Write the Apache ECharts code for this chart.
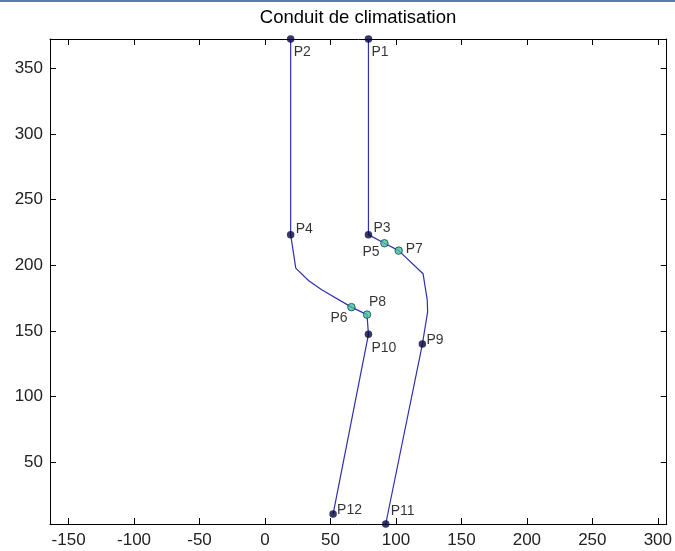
<!DOCTYPE html>
<html>
<head>
<meta charset="utf-8">
<script src="https://cdn.jsdelivr.net/npm/echarts@6/dist/echarts.min.js"></script>
<style>
html,body{margin:0;padding:0;background:#fff;}
#c{width:675px;height:551px;}
</style>
</head>
<body>
<div id="c"></div>
<script>
// ---- data ----
const chartTitle = 'Conduit de climatisation';
const xTicks = [-150, -100, -50, 0, 50, 100, 150, 200, 250, 300];
const yTicks = [50, 100, 150, 200, 250, 300, 350];
const xRange = [-164.2, 306.8];
const yRange = [2.7, 372.6];

// left wall: P2 -> P4 -> ... -> P6 -> P8 -> P10 -> P12
const leftWallX = [19.6, 19.6, 23.5, 33.4, 43.3, 66.0, 77.9, 79.0, 52.0];
const leftWallY = [372.6, 223.4, 197.9, 188.2, 181.3, 168.1, 162.4, 147.4, 10.3];
// right wall: P1 -> P3 -> P5 -> P7 -> ... -> P9 -> P11
const rightWallX = [79.0, 79.0, 91.2, 102.1, 120.7, 123.9, 124.2, 120.2, 92.2];
const rightWallY = [372.6, 223.4, 216.8, 211.2, 193.6, 173.7, 164.5, 139.9, 2.7];

const pointNames = ['P1','P2','P3','P4','P5','P6','P7','P8','P9','P10','P11','P12'];
const pointX = [79.0, 19.6, 79.0, 19.6, 91.2, 66.0, 102.1, 77.9, 120.2, 79.0, 92.2, 52.0];
const pointY = [372.6, 372.6, 223.4, 223.4, 216.8, 168.1, 211.2, 162.4, 139.9, 147.4, 2.7, 10.3];
const tealPoints = ['P5','P6','P7','P8'];

// ---- styling (label offsets in px, relative to the marker centre) ----
const labelOffsets = {
  P1:[3,13], P2:[3,13], P3:[5,-6], P4:[5,-5], P5:[-22,9], P6:[-21,11],
  P7:[7,-1], P8:[2,-12], P9:[4,-4], P10:[3,14], P11:[5,-13], P12:[4,-4]
};
const FONT = "'Liberation Sans', Arial, sans-serif";
const lineColor = '#3030b0';

const pairs = (xs, ys) => xs.map((x, i) => [x, ys[i]]);

const pointData = pointNames.map((n, i) => {
  const teal = tealPoints.includes(n);
  return {
    name: n,
    value: [pointX[i], pointY[i]],
    itemStyle: teal ? {color:'#40c498', borderColor:'#1c3c5c', borderWidth:1}
                    : {color:'#06063e', borderColor:'#06063e', borderWidth:0},
    label: {offset: labelOffsets[n]}
  };
});

const axisCommon = {
  type: 'value',
  axisLine: {show: true, onZero: false, lineStyle: {color: '#000', width: 1}},
  splitLine: {show: false},
  axisTick: {show: true, inside: true, length: 6, lineStyle: {color: '#000'}}
};

const chart = echarts.init(document.getElementById('c'));
chart.setOption({
  animation: false,
  backgroundColor: '#fff',
  grid: {left: 50, right: 8, top: 39, bottom: 27},
  xAxis: [
    Object.assign({}, axisCommon, {
      position: 'bottom', min: xRange[0], max: xRange[1],
      axisTick: Object.assign({}, axisCommon.axisTick, {customValues: xTicks}),
      axisLabel: {customValues: xTicks, color: '#222', fontFamily: FONT, fontSize: 17, margin: 8}
    }),
    Object.assign({}, axisCommon, {
      position: 'top', min: xRange[0], max: xRange[1],
      axisTick: Object.assign({}, axisCommon.axisTick, {customValues: xTicks}),
      axisLabel: {show: false}
    })
  ],
  yAxis: [
    Object.assign({}, axisCommon, {
      position: 'left', min: yRange[0], max: yRange[1],
      axisTick: Object.assign({}, axisCommon.axisTick, {customValues: yTicks}),
      axisLabel: {customValues: yTicks, color: '#222', fontFamily: FONT, fontSize: 17, margin: 7}
    }),
    Object.assign({}, axisCommon, {
      position: 'right', min: yRange[0], max: yRange[1],
      axisTick: Object.assign({}, axisCommon.axisTick, {customValues: yTicks}),
      axisLabel: {show: false}
    })
  ],
  series: [
    {type: 'line', data: pairs(leftWallX, leftWallY), symbol: 'none',
     lineStyle: {color: lineColor, width: 1.2}, clip: false, z: 2},
    {type: 'line', data: pairs(rightWallX, rightWallY), symbol: 'none',
     lineStyle: {color: lineColor, width: 1.2}, clip: false, z: 2},
    {type: 'scatter', data: pointData, symbol: 'circle', symbolSize: 7.5, clip: false, z: 5,
     label: {show: true, position: 'inside', formatter: '{b}', align: 'left',
             verticalAlign: 'middle', color: '#000', fontFamily: FONT, fontSize: 14}}
  ],
  graphic: [
    {type: 'rect', shape: {x: 0, y: 0, width: 675, height: 2}, style: {fill: '#5b7aa5'}, silent: true},
    {type: 'text', x: 358, y: 18, style: {text: chartTitle, fill: '#000', font: '18.5px ' + FONT,
      align: 'center', verticalAlign: 'middle'}}
  ]
});
</script>
</body>
</html>
